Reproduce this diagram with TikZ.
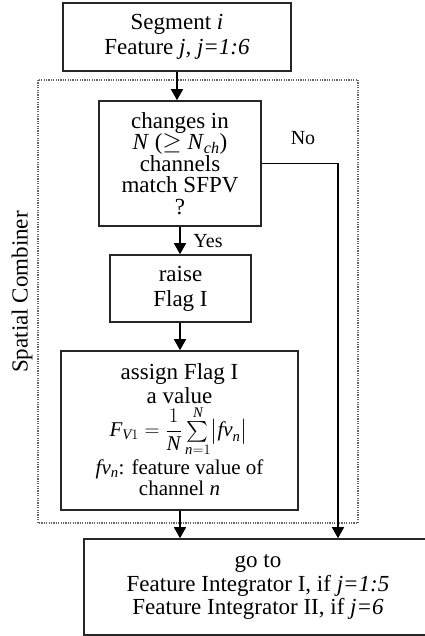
\documentclass[tikz,border=0pt]{standalone}
\usepackage{amsmath}
\usepackage{fontspec}
\setmainfont{Liberation Serif}
\usetikzlibrary{arrows.meta}
\tikzset{
  box/.style={draw=black!85, line width=1.6pt, align=center, inner sep=0pt},
  arr/.style={draw=black, line width=1.6pt, -{Triangle[length=11pt,width=12pt]}},
  dotbox/.style={draw=black!60, line width=1.2pt, dash pattern=on 1.2pt off 1.2pt},
  lbl/.style={inner sep=0pt, font=\fontsize{20}{22}\selectfont},
}
\begin{document}
\begin{tikzpicture}[x=1pt,y=-1pt]
\useasboundingbox (0,0) rectangle (424,636);
% dotted spatial combiner frame
\draw[dotbox] (38,80) rectangle (358,523);
\node[rotate=90, inner sep=0pt, font=\fontsize{23}{25}\selectfont] (sc) at (22,292) {Spatial Combiner};

\node[box, minimum width=228pt, minimum height=68pt, font=\fontsize{23}{25}\selectfont] (top) at (177,37)
  {Segment \textit{i}\\ Feature \textit{j, j=1:6}};

\node[box, minimum width=162pt, minimum height=125pt, font=\fontsize{23}{21.5}\selectfont] (dec) at (180,163.5)
  {changes in\\ \textit{N} ($\geq$ \textit{N}\textsubscript{\textit{ch}})\\ channels\\ match SFPV\\ ?};

\node[box, minimum width=141pt, minimum height=67pt, font=\fontsize{23}{25}\selectfont] (raise) at (180.5,288.5)
  {raise\\ Flag I};

\node[box, minimum width=237pt, minimum height=159pt] (assign) at (179.5,430.5) {};
\node[inner sep=0pt, font=\fontsize{23}{24}\selectfont, align=center] (asg1) at (179.5,384) {assign Flag I\\ a value};
\node[inner sep=0pt, font=\fontsize{21}{22}\selectfont] (asg2) at (178.5,431)
  {$\textit{F}_{\textit{V}1} = \dfrac{1}{\textit{N}}\textstyle\sum\limits_{\textit{n}=1}^{\textit{N}}\bigl|\textit{fv}_{\textit{n}}\bigr|$};
\node[inner sep=0pt, font=\fontsize{21}{21}\selectfont, align=center] (asg3) at (179.5,478)
  {\textit{fv}\textsubscript{\textit{n}}: feature value of\\ channel \textit{n}};

\node[box, minimum width=348pt, minimum height=96pt, font=\fontsize{23}{23.5}\selectfont] (bot) at (258,587)
  {go to\\ Feature Integrator I, if \textit{j=1:5}\\ Feature Integrator II, if \textit{j=6}};

\coordinate (nocorner) at (338,163.5);
\draw[arr] (top.south) -- (top.south |- dec.north);
\draw[arr] (dec.south) -- (raise.north -| dec.south);
\draw[arr] (raise.south -| dec.south) -- (assign.north -| dec.south);
\draw[arr] (assign.south -| dec.south) -- (bot.north -| dec.south);
\draw[arr] (dec.east) -- (nocorner) -- (bot.north -| nocorner);

\node[lbl] (no) at (303,138) {No};
\node[lbl] (yes) at (208,241) {Yes};
\end{tikzpicture}
\end{document}
